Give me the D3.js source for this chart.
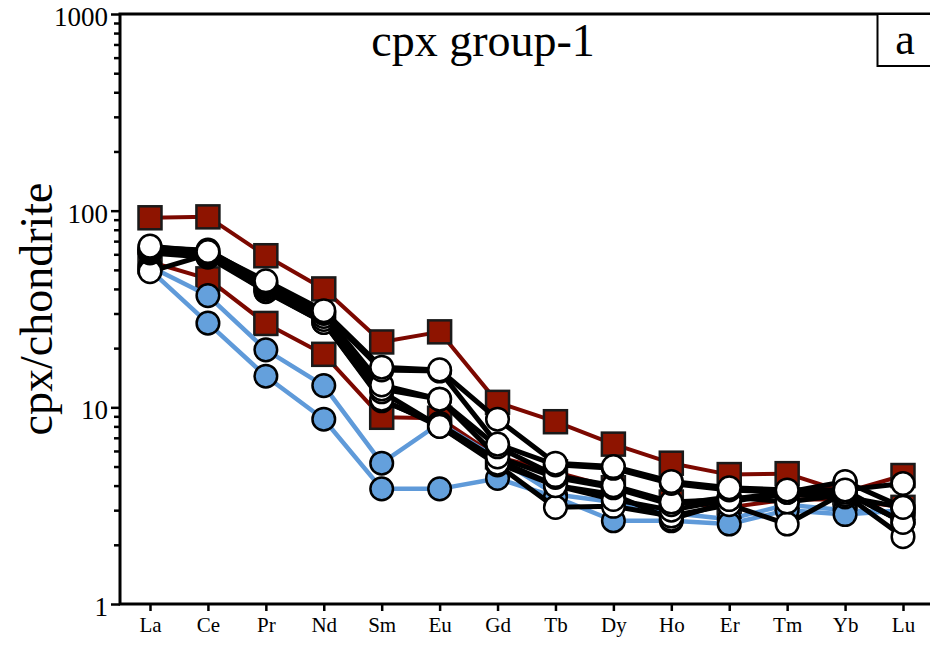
<!DOCTYPE html>
<html lang="en">
<head>
<meta charset="UTF-8">
<title>cpx group-1</title>
<style>
  body { margin: 0; background: #fff; }
  svg text { font-family: "Liberation Serif", "Times New Roman", serif; fill: #000; }
</style>
</head>
<body>
<script src="https://d3js.org/d3.v7.min.js"></script>
<div id="chart"></div>
<script>
// REE pattern, chondrite normalised
const elements = ["La", "Ce", "Pr", "Nd", "Sm", "Eu", "Gd", "Tb", "Dy", "Ho", "Er", "Tm", "Yb", "Lu"];

// dark red squares
const red1 = [92, 93, 59, 40, 21.5, 24.2, 10.6, 8.45, 6.5, 5.2, 4.55, 4.6, 3.7, 4.5];
const red2 = [55, 45, 26.7, 18.6, 8.9, 8.8, 5.6, 4.7, 3.9, 3.3, 3.1, 3.4, 3.4, 3.1];

// blue circles
const blue1 = [52, 37, 19.6, 12.9, 5.2, 8.3, 5.5, 3.6, 3.3, 2.9, 2.7, 3.2, 3.0, 2.9];
const blue2 = [50, 26.8, 14.4, 8.7, 3.85, 3.85, 4.35, 3.5, 2.65, 2.65, 2.55, 3.0, 2.85, 3.0];

// white circles
const white1 = [66, 62, 44, 31, 16, 15.5, 8.7, 5.2, 5.0, 4.2, 3.9, 3.8, 3.8, 4.1];
const white2 = [65, 63, 43, 30.5, 15.5, 15.3, 6.5, 5.1, 4.9, 4.1, 3.8, 3.7, 4.2, 3.1];
const white3 = [64, 61, 42, 30, 13, 11, 6.3, 4.5, 4.0, 3.3, 3.4, 3.7, 3.7, 2.6];
const white4 = [63, 60, 41, 29, 12.4, 11, 5.6, 4.4, 3.9, 3.2, 3.5, 3.3, 3.6, 2.2];
const white5 = [62, 59, 40, 28, 12, 8.0, 5.2, 4.0, 3.4, 3.0, 3.4, 3.6, 3.5, 3.1];
const white6 = [61, 58, 39, 27, 11, 8.0, 5.1, 3.1, 3.14, 2.8, 3.2, 2.55, 3.7, 2.6];
const white7 = [49, 60, 38.7, 27, 10.8, 8.2, 5.4, 4.0, 3.6, 2.7, 3.3, 3.7, 3.8, 2.6];

const yMajor = [1, 10, 100, 1000];
const yMinor = [2, 3, 4, 5, 6, 7, 8, 9, 20, 30, 40, 50, 60, 70, 80, 90, 200, 300, 400, 500, 600, 700, 800, 900];

const margin = {top: 14, right: -2, bottom: 42, left: 120};
const W = 930, H = 646;
const width = W - margin.left - margin.right;
const height = H - margin.top - margin.bottom;

const svg = d3.select("#chart").append("svg")
  .attr("width", W)
  .attr("height", H);

const g = svg.append("g")
  .attr("transform", `translate(${margin.left},${margin.top})`);

const x = d3.scalePoint()
  .domain(elements)
  .range([30, 783]);

const y = d3.scaleLog()
  .domain([1, 1000])
  .range([height, 0]);

// minor ticks
g.append("g")
  .call(d3.axisLeft(y).tickValues(yMinor).tickSize(6).tickFormat(""))
  .call(a => a.select(".domain").remove())
  .selectAll("line").attr("stroke-width", 2.5);

// major ticks + labels
g.append("g")
  .call(d3.axisLeft(y).tickValues(yMajor).tickSize(9).tickPadding(3).tickFormat(d3.format("d")))
  .call(a => a.select(".domain").remove())
  .call(a => a.selectAll("line").attr("stroke-width", 2.5))
  .selectAll("text")
    .style("font-size", "27px")
    .attr("font-family", null)
    .attr("dy", "0.42em");

// x axis
g.append("g")
  .attr("transform", `translate(0,${height})`)
  .call(d3.axisBottom(x).tickSize(7).tickPadding(6))
  .call(a => a.select(".domain").remove())
  .call(a => a.selectAll("line").attr("stroke-width", 2.5))
  .selectAll("text")
    .style("font-size", "21px")
    .attr("font-family", null);

// frame
g.append("rect")
  .attr("x", 0).attr("y", 0)
  .attr("width", width).attr("height", height)
  .attr("fill", "none")
  .attr("stroke", "#000")
  .attr("stroke-width", 3);

const line = d3.line()
  .x((d, i) => x(elements[i]))
  .y(d => y(d));

const groups = [
  {data: [red1, red2], line: "#7c0800", lw: 4, fill: "#8e1400", shape: "square"},
  {data: [blue1, blue2], line: "#5f9ad9", lw: 4.5, fill: "#64a0dc", shape: "circle"},
  {data: [white7, white6, white5, white4, white3, white2, white1], line: "#000", lw: 5, fill: "#fff", shape: "circle"}
];

groups.forEach(grp => {
  grp.data.forEach(s => {
    g.append("path")
      .datum(s)
      .attr("d", line)
      .attr("fill", "none")
      .attr("stroke", grp.line)
      .attr("stroke-width", grp.lw)
      .attr("stroke-linejoin", "round");
    if (grp.shape === "square") {
      g.selectAll(null)
        .data(s)
        .join("rect")
          .attr("x", (d, i) => x(elements[i]) - 11.5)
          .attr("y", d => y(d) - 11.5)
          .attr("width", 23)
          .attr("height", 23)
          .attr("fill", grp.fill)
          .attr("stroke", "#1a1a1a")
          .attr("stroke-width", 2.5);
    } else {
      g.selectAll(null)
        .data(s)
        .join("circle")
          .attr("cx", (d, i) => x(elements[i]))
          .attr("cy", d => y(d))
          .attr("r", 11.3)
          .attr("fill", grp.fill)
          .attr("stroke", "#000")
          .attr("stroke-width", 2.5);
    }
  });
});

// title
g.append("text")
  .attr("x", 363)
  .attr("y", 42)
  .attr("text-anchor", "middle")
  .style("font-size", "46px")
  .text("cpx group-1");

// panel letter box
g.append("rect")
  .attr("x", 757.5)
  .attr("y", 0)
  .attr("width", 60)
  .attr("height", 52)
  .attr("fill", "#fff")
  .attr("stroke", "#000")
  .attr("stroke-width", 2);
g.append("text")
  .attr("x", 785)
  .attr("y", 40)
  .attr("text-anchor", "middle")
  .style("font-size", "44px")
  .text("a");

// y axis title
svg.append("text")
  .attr("transform", `translate(52,${margin.top + height / 2}) rotate(-90)`)
  .attr("text-anchor", "middle")
  .style("font-size", "46px")
  .text("cpx/chondrite");
</script>
</body>
</html>
